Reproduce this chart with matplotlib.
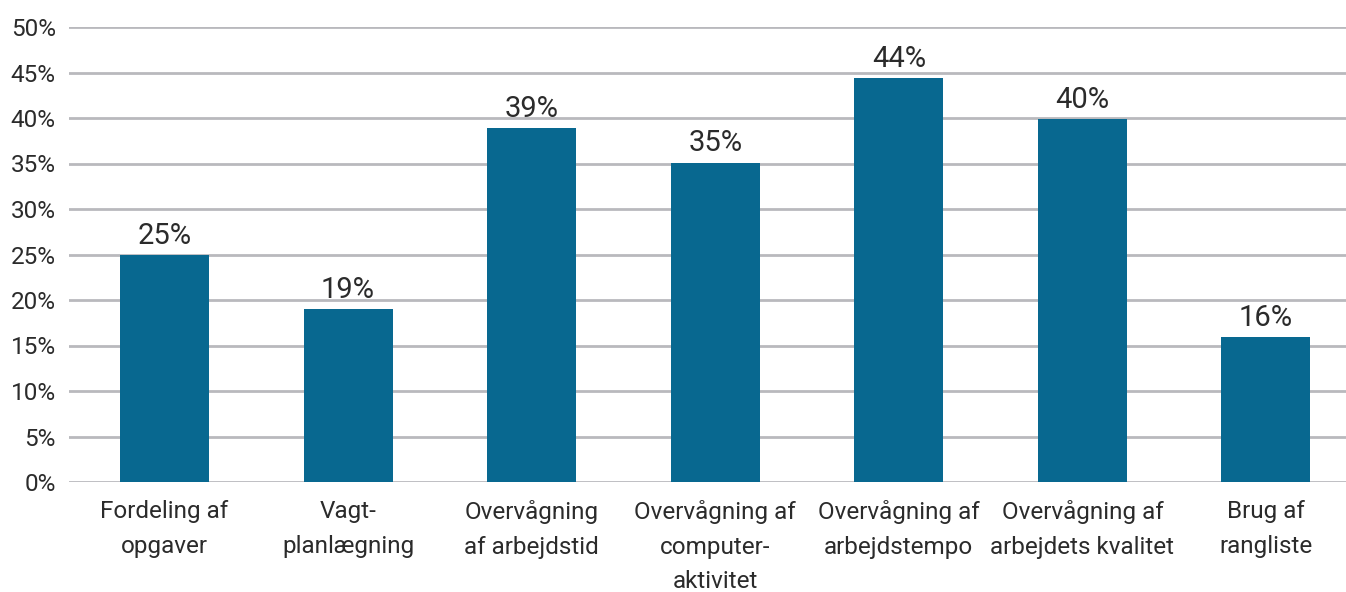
import matplotlib
matplotlib.use("Agg")
import matplotlib.pyplot as plt
from matplotlib.ticker import FuncFormatter, MultipleLocator

plt.rcParams['font.family'] = ['Roboto', 'DejaVu Sans']

categories = [
    "Fordeling af\nopgaver",
    "Vagt-\nplanlægning",
    "Overvågning\naf arbejdstid",
    "Overvågning af\ncomputer-\naktivitet",
    "Overvågning af\narbejdstempo",
    "Overvågning af\narbejdets kvalitet",
    "Brug af\nrangliste",
]
shares = [24.9, 19.0, 38.9, 35.1, 44.4, 39.9, 15.9]

bar_color = "#086890"
grid_color = "#b9b9bd"
text_color = "#2b2b2b"

fig = plt.figure(figsize=(13.46, 5.92), dpi=100)
ax = fig.add_axes([69 / 1346, 1 - 482 / 592, 1 - 69 / 1346, (482 - 27) / 592])

x = range(len(categories))
bars = ax.bar(x, shares, width=0.485, color=bar_color, zorder=3)

for rect, v in zip(bars, shares):
    ax.annotate(f"{round(v)}%", (rect.get_x() + rect.get_width() / 2, v),
                xytext=(0, 8), textcoords="offset points",
                ha="center", va="baseline", fontsize=21, color=text_color)

ax.set_xlim(-0.52, 6.436)
ax.set_ylim(0, 50)
ax.yaxis.set_major_locator(MultipleLocator(5))
ax.yaxis.set_major_formatter(FuncFormatter(lambda v, _: f"{v:.0f}%"))
ax.grid(axis="y", color=grid_color, linewidth=2, zorder=0)
ax.set_axisbelow(True)
for s in ax.spines.values():
    s.set_visible(False)

ax.set_xticks(list(x))
ax.set_xticklabels(categories, fontsize=17.5, color=text_color, linespacing=1.65, va="top")
ax.tick_params(axis="x", length=0, pad=13)
ax.tick_params(axis="y", length=0, pad=9.5, labelsize=17.5, labelcolor=text_color)

fig.savefig("out.png", dpi=100)
